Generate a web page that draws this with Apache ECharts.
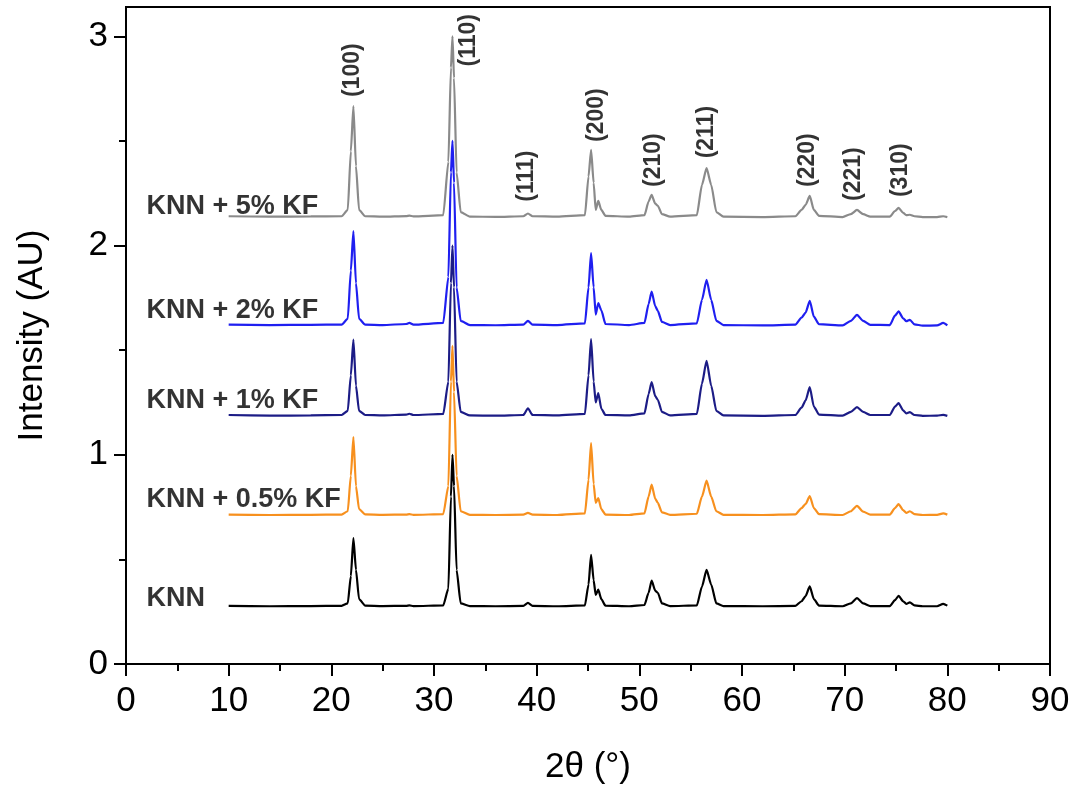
<!DOCTYPE html>
<html>
<head>
<meta charset="utf-8">
<title>XRD KNN + KF</title>
<script src="https://cdn.jsdelivr.net/npm/echarts@6/dist/echarts.min.js"></script>
<style>
	html, body { margin: 0; padding: 0; background: #fff; }
	#main { width: 1074px; height: 790px; }
</style>
</head>
<body>
<div id="main"></div>
<script>
// 2θ (°) 取点位置
var twoTheta = [10, 14, 18, 21.0, 21.6, 21.9, 22.15, 22.4, 22.7, 23.3, 25, 27.3, 27.6, 28, 30.9, 31.4, 31.65, 31.8, 31.95, 32.2, 32.6, 33.5, 36, 38.7, 39.15, 39.6, 42, 44.7, 45.05, 45.3, 45.55, 45.75, 46.0, 46.3, 46.7, 49, 50.5, 50.9, 51.2, 51.55, 51.8, 52.2, 53, 55.6, 56.1, 56.55, 57.0, 57.5, 58.2, 62, 65.2, 65.8, 66.2, 66.6, 67.0, 67.5, 69.8, 70.6, 71.2, 71.8, 72.5, 74.4, 74.9, 75.25, 75.7, 76.0, 76.35, 76.8, 77.6, 79.0, 79.6, 80];

// 各样品强度 (已含纵向偏移)
var knn = [0.278, 0.276, 0.277, 0.278, 0.29, 0.42, 0.602, 0.45, 0.31, 0.279, 0.277, 0.278, 0.28, 0.277, 0.28, 0.36, 0.8, 1.0, 0.85, 0.45, 0.29, 0.277, 0.276, 0.278, 0.292, 0.278, 0.276, 0.28, 0.38, 0.522, 0.40, 0.33, 0.355, 0.31, 0.279, 0.276, 0.282, 0.34, 0.398, 0.35, 0.34, 0.29, 0.277, 0.28, 0.37, 0.45, 0.38, 0.29, 0.277, 0.276, 0.278, 0.30, 0.325, 0.371, 0.31, 0.279, 0.276, 0.29, 0.315, 0.29, 0.277, 0.277, 0.305, 0.326, 0.30, 0.287, 0.295, 0.28, 0.276, 0.276, 0.287, 0.279];
var kf05 = [0.714, 0.712, 0.713, 0.714, 0.73, 0.9, 1.085, 0.85, 0.74, 0.715, 0.713, 0.714, 0.716, 0.713, 0.716, 0.85, 1.35, 1.52, 1.3, 0.9, 0.73, 0.713, 0.712, 0.714, 0.722, 0.714, 0.712, 0.72, 0.88, 1.056, 0.86, 0.77, 0.793, 0.74, 0.714, 0.712, 0.72, 0.80, 0.857, 0.79, 0.77, 0.725, 0.713, 0.718, 0.80, 0.876, 0.80, 0.73, 0.713, 0.712, 0.715, 0.745, 0.765, 0.803, 0.745, 0.716, 0.712, 0.73, 0.756, 0.728, 0.714, 0.714, 0.745, 0.764, 0.735, 0.722, 0.73, 0.716, 0.712, 0.713, 0.72, 0.714];
var kf1 = [1.19, 1.187, 1.188, 1.19, 1.21, 1.38, 1.55, 1.33, 1.21, 1.19, 1.188, 1.192, 1.196, 1.19, 1.195, 1.35, 1.82, 2.0, 1.8, 1.35, 1.205, 1.188, 1.187, 1.19, 1.222, 1.19, 1.188, 1.195, 1.38, 1.553, 1.35, 1.25, 1.295, 1.22, 1.19, 1.188, 1.198, 1.29, 1.347, 1.28, 1.263, 1.205, 1.188, 1.195, 1.34, 1.449, 1.33, 1.21, 1.188, 1.186, 1.19, 1.225, 1.26, 1.323, 1.23, 1.192, 1.187, 1.205, 1.228, 1.205, 1.19, 1.19, 1.23, 1.247, 1.212, 1.198, 1.204, 1.19, 1.186, 1.187, 1.191, 1.186];
var kf2 = [1.622, 1.62, 1.621, 1.622, 1.65, 1.88, 2.069, 1.82, 1.65, 1.622, 1.62, 1.625, 1.63, 1.622, 1.63, 1.85, 2.35, 2.5, 2.3, 1.8, 1.64, 1.62, 1.619, 1.622, 1.64, 1.622, 1.62, 1.628, 1.8, 1.964, 1.80, 1.67, 1.725, 1.69, 1.625, 1.62, 1.63, 1.72, 1.78, 1.71, 1.688, 1.635, 1.62, 1.628, 1.74, 1.836, 1.74, 1.64, 1.62, 1.618, 1.622, 1.655, 1.68, 1.736, 1.66, 1.624, 1.618, 1.64, 1.669, 1.64, 1.621, 1.62, 1.665, 1.685, 1.652, 1.638, 1.645, 1.623, 1.617, 1.618, 1.63, 1.618];
var kf5 = [2.14, 2.138, 2.139, 2.14, 2.17, 2.45, 2.666, 2.38, 2.17, 2.14, 2.138, 2.141, 2.143, 2.139, 2.145, 2.4, 2.85, 3.0, 2.8, 2.35, 2.16, 2.138, 2.137, 2.14, 2.153, 2.14, 2.138, 2.145, 2.33, 2.457, 2.3, 2.17, 2.213, 2.17, 2.142, 2.138, 2.145, 2.21, 2.242, 2.20, 2.19, 2.15, 2.138, 2.145, 2.29, 2.37, 2.29, 2.16, 2.138, 2.136, 2.14, 2.17, 2.195, 2.237, 2.17, 2.142, 2.136, 2.15, 2.17, 2.15, 2.138, 2.138, 2.165, 2.18, 2.156, 2.145, 2.147, 2.14, 2.136, 2.136, 2.14, 2.136];

// 样品名称 与 标注位置
var sampleNames = ['KNN', 'KNN + 0.5% KF', 'KNN + 1% KF', 'KNN + 2% KF', 'KNN + 5% KF'];
var sampleLabelPos = [[2.0, 0.315], [2.0, 0.788], [2.0, 1.257], [2.0, 1.689], [2.0, 2.188]];

// 晶面指数标注
var peakNames = ['(100)', '(110)', '(111)', '(200)', '(210)', '(211)', '(220)', '(221)', '(310)'];
var peakLabelPos = [[22.1, 2.838], [33.4, 2.981], [39.0, 2.332], [45.8, 2.623], [51.4, 2.408], [56.6, 2.542], [66.4, 2.408], [70.9, 2.341], [75.5, 2.36]];

var tickValues = [0, 1, 2, 3];
var minorTickValues = [0.5, 1.5, 2.5];

var FONT = '"Liberation Sans", Arial, Helvetica, sans-serif';

function pair(ys) {
	var arr = [];
	for (var i = 0; i < twoTheta.length; i++) {
		arr.push([twoTheta[i], ys[i]]);
	}
	return arr;
}

function lineSeries(name, ys, color) {
	return {
		name: name,
		type: 'line',
		data: pair(ys),
		showSymbol: false,
		symbol: 'none',
		smooth: 0.2,
		smoothMonotone: 'x',
		lineStyle: { color: color, width: 2.2 },
		silent: true,
		animation: false
	};
}

var chart = echarts.init(document.getElementById('main'));

var option = {
	backgroundColor: '#fff',
	animation: false,
	grid: {
		left: 126,
		right: 24,
		top: 7,
		bottom: 124,
		show: true,
		borderColor: '#000',
		borderWidth: 2
	},
	xAxis: {
		type: 'value',
		min: 0,
		max: 90,
		interval: 10,
		name: '2θ (°)',
		nameLocation: 'middle',
		nameGap: 86,
		nameTextStyle: { color: '#000', fontSize: 35, fontFamily: FONT },
		axisLine: { show: true, onZero: false, lineStyle: { color: '#000', width: 2 } },
		axisTick: { show: true, inside: false, length: 12, lineStyle: { color: '#000', width: 2 } },
		minorTick: { show: true, splitNumber: 2, length: 7, lineStyle: { color: '#000', width: 2 } },
		axisLabel: { color: '#000', fontSize: 35, margin: 20, fontFamily: FONT },
		splitLine: { show: false },
		minorSplitLine: { show: false }
	},
	yAxis: [{
		type: 'value',
		min: 0,
		max: 3.14,
		name: 'Intensity (AU)',
		nameLocation: 'middle',
		nameGap: 76,
		nameRotate: 90,
		nameTextStyle: { color: '#000', fontSize: 35, fontFamily: FONT },
		axisLine: { show: true, onZero: false, lineStyle: { color: '#000', width: 2 } },
		axisTick: { show: true, inside: false, length: 12, customValues: tickValues, lineStyle: { color: '#000', width: 2 } },
		axisLabel: { color: '#000', fontSize: 35, margin: 18, customValues: tickValues, fontFamily: FONT },
		splitLine: { show: false }
	}, {
		// 次刻度
		type: 'value',
		min: 0,
		max: 3.14,
		position: 'left',
		axisLine: { show: false },
		axisTick: { show: true, inside: false, length: 7, customValues: minorTickValues, lineStyle: { color: '#000', width: 2 } },
		axisLabel: { show: false },
		splitLine: { show: false }
	}],
	series: [
		lineSeries('KNN + 5% KF', kf5, '#8a8a8a'),
		lineSeries('KNN + 0.5% KF', kf05, '#f7901e'),
		lineSeries('KNN + 1% KF', kf1, '#1c1c86'),
		lineSeries('KNN + 2% KF', kf2, '#1f1ff0'),
		lineSeries('KNN', knn, '#000000'),
		{
			// 样品名称
			type: 'scatter',
			symbolSize: 0,
			silent: true,
			data: sampleLabelPos,
			label: {
				show: true,
				position: 'right',
				distance: 0,
				color: '#000000',
				textBorderWidth: 0,
				fontSize: 27,
				fontWeight: 'bold',
				fontFamily: FONT,
				formatter: function (p) { return sampleNames[p.dataIndex]; }
			}
		},
		{
			// 晶面指数
			type: 'scatter',
			symbolSize: 0,
			silent: true,
			data: peakLabelPos,
			label: {
				show: true,
				position: 'inside',
				rotate: 90,
				color: '#000000',
				textBorderWidth: 0,
				fontSize: 23,
				fontWeight: 'bold',
				fontFamily: FONT,
				formatter: function (p) { return peakNames[p.dataIndex]; }
			}
		}
	]
};

chart.setOption(option);
</script>
</body>
</html>
